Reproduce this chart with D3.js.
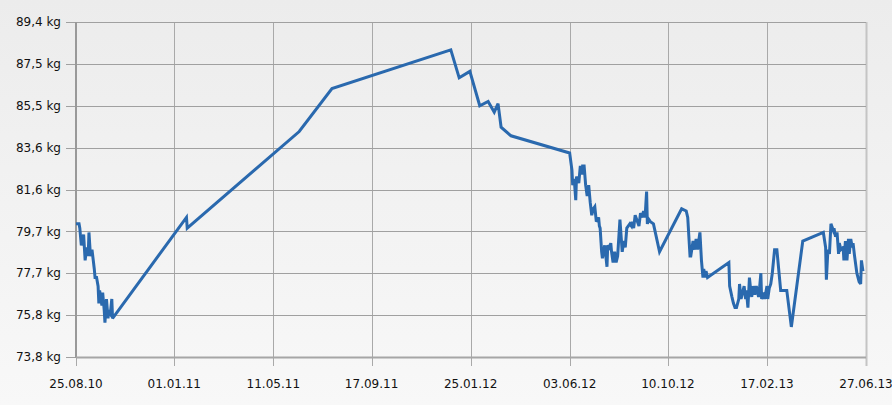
<!DOCTYPE html>
<html>
<head>
<meta charset="utf-8">
<script src="https://cdn.jsdelivr.net/npm/d3@7"></script>
<style>
  html, body { margin: 0; padding: 0; }
  body { width: 892px; height: 405px; overflow: hidden; }
  .tick text { font-family: "DejaVu Sans", sans-serif; font-size: 12px; fill: #111; }
</style>
</head>
<body>
<svg id="chart" width="892" height="405"></svg>
<script>
// days after 25.08.10 and the weight read at that day
const startDate = '25.08.10';
const days = [
  0, 4, 5, 7, 9, 10, 12, 14, 16, 17, 19, 21, 24, 25, 27, 29, 30, 31, 34, 35,
  37, 38, 40, 42, 43, 45, 47, 48, 145, 146, 293, 336, 492, 503, 517, 530, 541, 549, 554, 558,
  571, 648, 651, 652, 654, 656, 657, 660, 662, 664, 665, 667, 669, 671, 673, 675, 677, 679, 681, 683,
  686, 687, 688, 690, 691, 694, 697, 698, 700, 702, 703, 705, 707, 709, 711, 714, 716, 717, 719, 721,
  723, 727, 729, 730, 732, 734, 736, 739, 741, 743, 745, 747, 749, 750, 752, 754, 758, 766, 795, 801,
  803, 806, 807, 810, 812, 814, 816, 817, 819, 821, 823, 824, 826, 827, 829, 857, 858, 861, 863, 865,
  867, 870, 871, 873, 875, 877, 879, 880, 882, 884, 886, 887, 889, 891, 893, 896, 897, 899, 900, 903,
  904, 907, 908, 910, 912, 914, 917, 920, 925, 933, 939, 954, 981, 984, 985, 987, 989, 991, 994, 995,
  997, 999, 1001, 1002, 1004, 1007, 1008, 1010, 1012, 1014, 1015, 1017, 1019, 1020, 1022, 1025, 1028, 1030, 1031, 1033
];
const weights = [
  80.0, 80.0, 79.8, 79.0, 79.3, 79.5, 78.3, 78.9, 78.5, 79.6, 78.5, 78.8, 77.9, 77.5, 77.5, 77.1, 76.3, 76.9, 76.2, 76.8,
  76.0, 75.4, 76.5, 75.6, 75.9, 75.8, 76.5, 75.6, 80.3, 79.8, 84.3, 86.3, 88.1, 86.8, 87.1, 85.5, 85.7, 85.2, 85.6, 84.5,
  84.1, 83.3, 82.5, 81.8, 82.1, 81.1, 82.2, 81.9, 82.7, 82.3, 82.7, 82.7, 81.8, 81.3, 81.8, 81.0, 80.4, 80.7, 80.8, 80.1,
  80.3, 79.9, 79.8, 78.7, 78.4, 79.0, 78.0, 79.0, 78.9, 79.1, 78.7, 78.2, 78.7, 78.2, 78.5, 80.2, 79.2, 78.7, 79.2, 78.9,
  79.8, 80.0, 79.9, 80.1, 79.8, 80.4, 80.2, 79.9, 80.5, 80.3, 80.6, 80.3, 81.5, 80.0, 80.2, 80.1, 80.0, 78.7, 80.7, 80.6,
  80.3, 78.5, 78.5, 79.2, 78.8, 79.3, 78.8, 79.1, 79.6, 78.3, 77.5, 77.9, 77.5, 77.8, 77.5, 78.2, 77.1, 76.6, 76.3, 76.1,
  76.1, 76.5, 77.2, 76.5, 76.8, 77.1, 76.5, 76.9, 76.1, 77.5, 76.8, 76.6, 77.1, 76.7, 77.1, 76.6, 76.9, 77.7, 76.5, 76.8,
  76.5, 77.1, 76.5, 77.0, 77.2, 77.7, 78.8, 78.8, 76.9, 76.9, 75.2, 79.2, 79.6, 78.9, 77.4, 78.8, 78.6, 80.0, 79.7, 79.8,
  79.4, 79.6, 78.6, 79.1, 78.8, 78.9, 78.3, 79.2, 78.3, 79.3, 78.6, 79.3, 78.9, 79.1, 78.5, 77.7, 77.3, 77.2, 78.3, 77.8
];

const xTickLabels = ['25.08.10', '01.01.11', '11.05.11', '17.09.11', '25.01.12', '03.06.12', '10.10.12', '17.02.13', '27.06.13'];
const yTickLabels = ['73,8', '75,8', '77,7', '79,7', '81,6', '83,6', '85,5', '87,5', '89,4'];
const yMin = 73.8, yMax = 89.4;

const margin = { top: 22, right: 26, bottom: 48, left: 76 };
const W = 892, H = 405;
const width = W - margin.left - margin.right;
const height = H - margin.top - margin.bottom;

const parse = d3.timeParse('%d.%m.%y');
const t0 = parse(startDate);
const data = days.map((d, i) => ({ date: d3.timeDay.offset(t0, d), w: weights[i] }));
const xTicks = xTickLabels.map(parse);
const yTicks = yTickLabels.map(s => +s.replace(',', '.'));

const svg = d3.select('#chart');

// background
const defs = svg.append('defs');
const grad = defs.append('linearGradient').attr('id', 'bg').attr('x1', 0).attr('y1', 0).attr('x2', 0).attr('y2', 1);
grad.append('stop').attr('offset', '0%').attr('stop-color', '#ececec');
grad.append('stop').attr('offset', '100%').attr('stop-color', '#f8f8f8');
svg.append('rect').attr('width', W).attr('height', H).attr('fill', 'url(#bg)');

defs.append('clipPath').attr('id', 'clip')
  .append('rect').attr('x', 0).attr('y', -5).attr('width', width + 1).attr('height', height + 10);

const chart = svg.append('g').attr('transform', `translate(${margin.left},${margin.top})`);

const x = d3.scaleTime().domain([xTicks[0], xTicks[xTicks.length - 1]]).range([0, width]);
const y = d3.scaleLinear().domain([yMin, yMax]).range([height, 0]);
// tick labels are rounded, so place them evenly across the domain
const yPos = (d, i) => y(yMin + i * (yMax - yMin) / (yTicks.length - 1));

// vertical grid
chart.append('g').selectAll('line')
  .data(xTicks)
  .join('line')
  .attr('x1', d => Math.round(x(d)) + 0.5).attr('x2', d => Math.round(x(d)) + 0.5)
  .attr('y1', 0).attr('y2', height + 9)
  .attr('stroke', (d, i) => i === xTicks.length - 1 ? '#c4c4c4' : '#a9a9a9')
  .attr('stroke-width', (d, i) => i === xTicks.length - 1 ? 2 : 1);

// horizontal grid
chart.append('g').selectAll('line')
  .data(yTicks)
  .join('line')
  .attr('x1', -10).attr('x2', width)
  .attr('y1', (d, i) => Math.round(yPos(d, i)) + 0.5).attr('y2', (d, i) => Math.round(yPos(d, i)) + 0.5)
  .attr('stroke', '#a0a0a0');

// axes lines
chart.append('line').attr('x1', 0).attr('x2', 0).attr('y1', 0).attr('y2', height + 1)
  .attr('stroke', '#999').attr('stroke-width', 2);
chart.append('line').attr('x1', 0).attr('x2', width).attr('y1', height + 0.5).attr('y2', height + 0.5)
  .attr('stroke', '#a6a6a6').attr('stroke-width', 2);

// labels
chart.append('g').attr('class', 'tick').selectAll('text')
  .data(yTickLabels)
  .join('text')
  .attr('x', -15)
  .attr('y', (d, i) => yPos(d, i))
  .attr('dy', '0.35em')
  .attr('text-anchor', 'end')
  .text(d => d + ' kg');

chart.append('g').attr('class', 'tick').selectAll('text')
  .data(xTicks)
  .join('text')
  .attr('x', d => x(d))
  .attr('y', height + 31)
  .attr('text-anchor', 'middle')
  .text((d, i) => xTickLabels[i]);

// weight line
const line = d3.line().x(d => x(d.date)).y(d => y(d.w));
chart.append('path')
  .datum(data)
  .attr('clip-path', 'url(#clip)')
  .attr('d', line)
  .attr('fill', 'none')
  .attr('stroke', '#2a69ae')
  .attr('stroke-width', 3)
  .attr('stroke-linejoin', 'miter')
  .attr('stroke-miterlimit', 3);
</script>
</body>
</html>
